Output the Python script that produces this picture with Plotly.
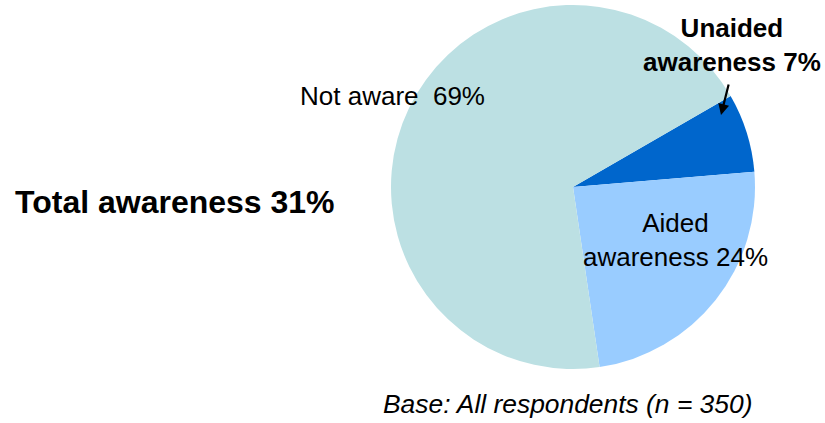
import plotly.graph_objects as go

W, H = 825, 423

labels = ["Unaided awareness", "Aided awareness", "Not aware"]
values = [7, 24, 69]
colors = ["#0066CC", "#99CCFF", "#BCE0E3"]

def px(x):
    return x / W

def py(y):
    return 1 - y / H

fig = go.Figure(go.Pie(
    labels=labels,
    values=values,
    sort=False,
    direction="clockwise",
    rotation=60,
    marker=dict(colors=colors, line=dict(width=0)),
    textinfo="none",
    hoverinfo="label+percent",
    showlegend=False,
    domain=dict(x=[px(391), px(755)], y=[py(369), py(5)]),
))

font = "Liberation Sans, Arial, sans-serif"
ann = [
    dict(text="<b>Total awareness 31%</b>", x=px(13), y=py(202), xanchor="left", yanchor="middle",
         font=dict(size=32, family=font, color="black")),
    dict(text="Not aware  69%", x=px(298), y=py(96), xanchor="left", yanchor="middle",
         font=dict(size=26, family=font, color="black")),
    dict(text="<b>Unaided<br>awareness 7%</b>", x=px(732), y=py(45), xanchor="center", yanchor="middle",
         font=dict(size=26, family=font, color="black")),
    dict(text="Aided<br>awareness 24%", x=px(675), y=py(240), xanchor="center", yanchor="middle",
         font=dict(size=26, family=font, color="black")),
    dict(text="<i>Base: All respondents (n = 350)</i>", x=px(381), y=py(404), xanchor="left", yanchor="middle",
         font=dict(size=26.4, family=font, color="black")),
    dict(text="", x=px(721), y=py(115), xref="paper", yref="paper", showarrow=True,
         ax=8, ay=-32, arrowhead=2, arrowsize=1, arrowwidth=2.2, arrowcolor="black"),
]
for a in ann:
    a.setdefault("xref", "paper")
    a.setdefault("yref", "paper")
    a.setdefault("showarrow", False)

fig.update_layout(
    width=W, height=H,
    margin=dict(l=0, r=0, t=0, b=0),
    paper_bgcolor="white",
    plot_bgcolor="white",
    annotations=ann,
)

fig.write_html("out.html",
               config={"displayModeBar": False},
               post_script="document.body.style.margin='0';document.body.style.overflow='hidden';")
